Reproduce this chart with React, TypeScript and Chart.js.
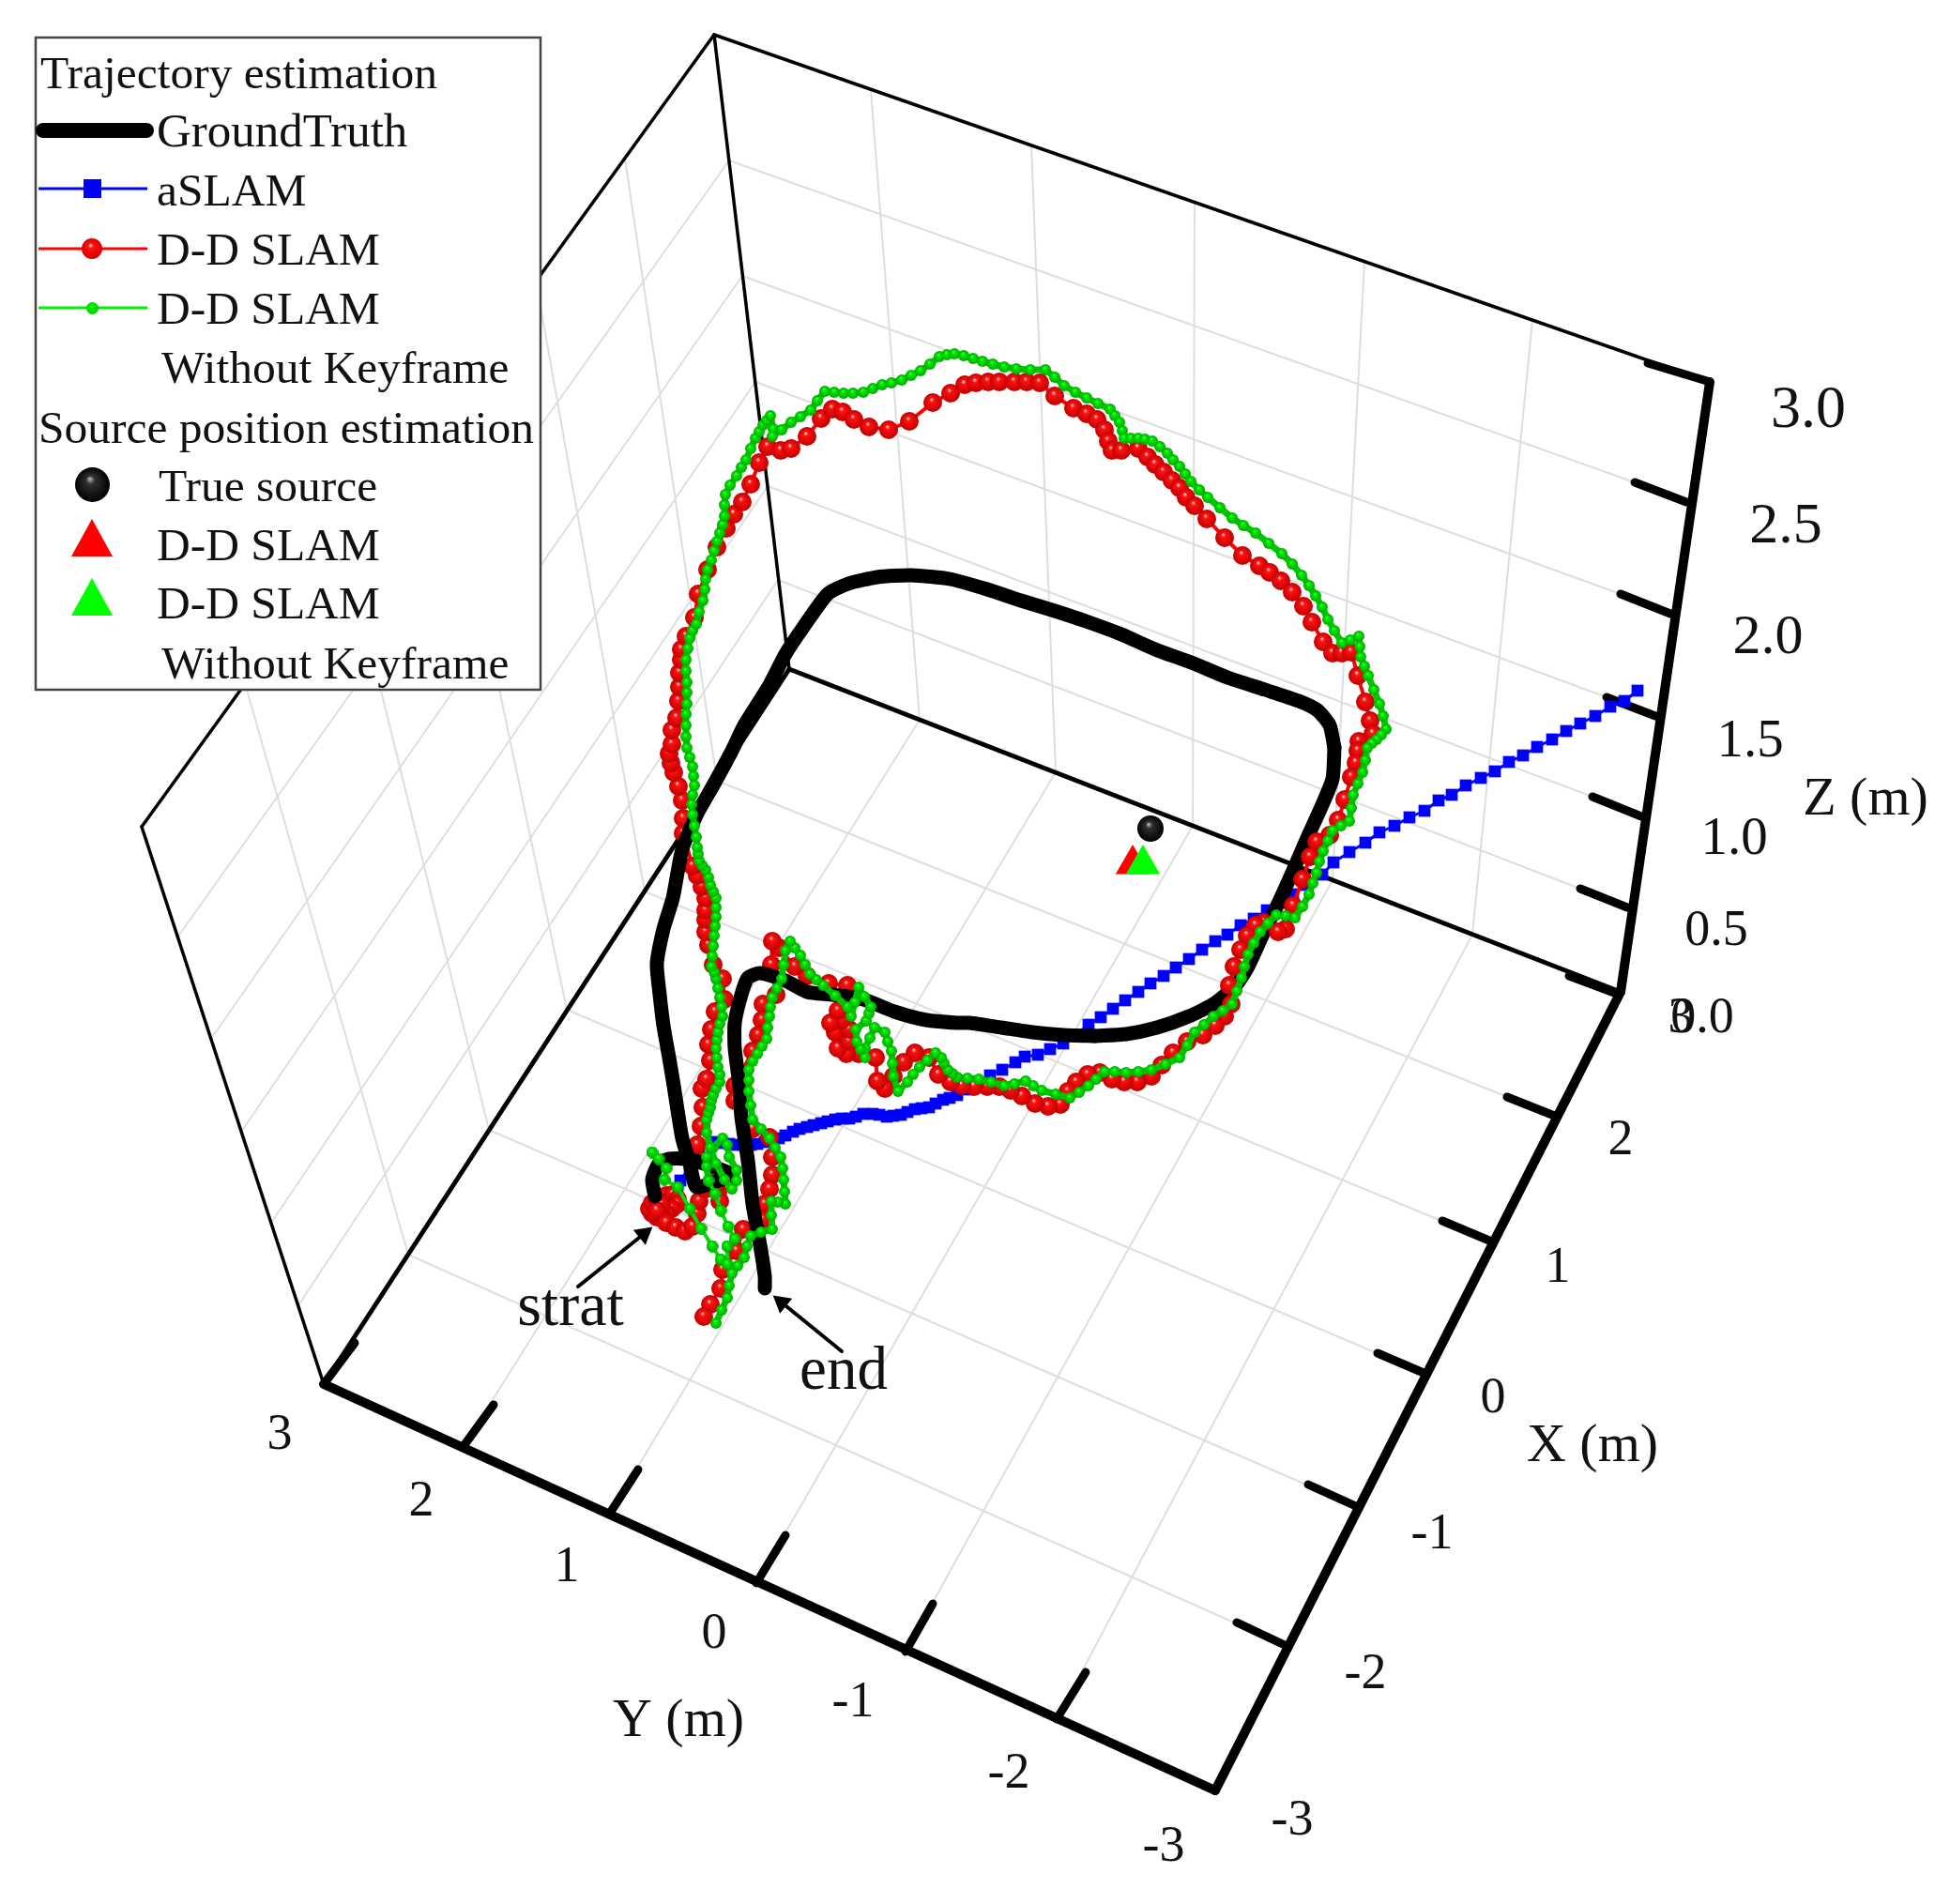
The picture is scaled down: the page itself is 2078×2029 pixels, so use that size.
import { useEffect, useRef } from "react";
import Chart from "chart.js/auto";

type Pt = [number, number];

const floorX: Pt[][] = [[[764,832],[1659,1190]],[[687,950],[1587,1322]],[[604,1076],[1517,1463]],[[521,1204],[1447,1606]],[[435,1337],[1371,1754]]];
const floorY: Pt[][] = [[[494,1541],[980,767]],[[649,1614],[1125,823]],[[806,1687],[1271,880]],[[965,1760],[1420,938]],[[1126,1832],[1569,996]]];
const backWallV: Pt[][] = [[[928,96],[980,767]],[[1099,155],[1125,823]],[[1273,216],[1271,880]],[[1454,278],[1420,938]],[[1633,341],[1569,996]]];
const backWallH: Pt[][] = [[[777,171],[1742,514]],[[791,294],[1727,633]],[[805,407],[1712,743]],[[818,518],[1697,849]],[[829,618],[1684,947]]];
const sideWallV: Pt[][] = [[[666,169],[764,832]],[[571,299],[687,950]],[[470,440],[604,1076]],[[368,581],[521,1204]],[[261,728],[435,1337]]];
const sideWallH: Pt[][] = [[[777,171],[189,999]],[[791,294],[225,1107]],[[805,407],[257,1206]],[[818,518],[289,1303]],[[829,618],[318,1391]]];

const thinEdges: Pt[][] = [[[761,37],[841,713]],[[761,37],[1822,407]],[[761,37],[151,881]],[[151,881],[345,1475]]];
const floorEdges: Pt[][] = [[[841,713],[1727,1057]],[[841,713],[345,1475]]];
const thickEdges: Pt[][] = [[[345,1475],[1295,1908]],[[1295,1908],[1727,1057]],[[1727,1057],[1822,407]]];
const tickMarks: Pt[][] = [
  [[1756,387],[1819,406]],[[1742,514],[1797,535]],[[1727,633],[1780,654]],[[1712,743],[1764,763]],[[1697,849],[1749,870]],[[1684,947],[1734,967]],[[1672,1040],[1723,1059]],
  [[1659,1190],[1606,1169]],[[1587,1322],[1537,1301]],[[1517,1463],[1468,1442]],[[1447,1606],[1394,1582]],[[1371,1754],[1318,1729]],
  [[345,1475],[378,1431]],[[494,1541],[526,1497]],[[649,1614],[680,1566]],[[806,1687],[837,1636]],[[965,1760],[994,1709]],[[1126,1832],[1157,1782]],
];

const aSlam: Pt[] = [[1745,736],[1731,747],[1716,753],[1700,763],[1684,771],[1669,779],[1654,788],[1638,796],[1623,805],[1608,812],[1593,822],[1578,829],[1562,837],[1547,847],[1533,853],[1518,864],[1502,871],[1486,880],[1470,887],[1455,898],[1438,908],[1421,919],[1409,932],[1392,943],[1378,953],[1364,962],[1350,970],[1336,979],[1322,986],[1308,996],[1295,1003],[1281,1012],[1267,1022],[1253,1031],[1240,1040],[1226,1048],[1213,1057],[1199,1066],[1186,1075],[1173,1084],[1160,1092],[1146,1103],[1133,1112],[1119,1118],[1106,1124],[1092,1126],[1082,1132],[1068,1140],[1055,1146],[1040,1155],[1030,1161],[1020,1167],[1012,1170],[1005,1172],[997,1176],[990,1180],[982,1181],[975,1182],[967,1185],[960,1188],[952,1189],[945,1190],[937,1188],[930,1187],[920,1187],[912,1190],[905,1192],[897,1192],[890,1193],[882,1195],[875,1197],[867,1199],[860,1201],[852,1203],[845,1206],[837,1210],[830,1213],[822,1215],[815,1217],[807,1219],[800,1220],[792,1220],[785,1220],[777,1219],[770,1218],[760,1217],[745,1228],[735,1243],[725,1258],[722,1268]];

const truthStart: Pt[] = [[698,1275],[695,1257],[702,1240],[713,1235],[730,1235],[750,1240],[780,1252],[760,1260],[742,1265],[735,1240],[727,1213],[722,1183],[718,1157],[713,1127],[707,1093],[703,1060],[700,1027],[707,990],[717,957],[727,905],[743,867],[760,837],[780,800],[793,773],[820,730],[837,697],[857,667],[882,633],[904,622],[935,615],[971,613],[1012,617],[1052,628],[1088,640],[1124,651],[1160,663],[1195,676],[1231,692],[1272,707],[1308,722],[1348,735],[1384,747],[1404,757],[1417,773],[1422,797]];
const truthMid: Pt[] = [[1422,797],[1420,830],[1408,860],[1393,893],[1377,930],[1362,963],[1347,993],[1330,1030],[1317,1050],[1293,1070],[1267,1083],[1233,1095],[1200,1102],[1167,1104]];
const truthEnd: Pt[] = [[1167,1104],[1133,1103],[1100,1100],[1067,1095],[1033,1090],[1020,1090],[987,1087],[953,1078],[920,1065],[887,1060],[860,1057],[837,1045],[810,1037],[797,1042],[790,1060],[783,1090],[783,1117],[788,1157],[790,1190],[797,1237],[802,1283],[810,1327],[815,1360],[815,1373]];

const ddSlam: Pt[] = [[703,1277],[710,1274],[717,1273],[722,1278],[722,1283],[716,1288],[710,1293],[705,1296],[700,1297],[695,1293],[692,1288],[695,1282],[700,1278],[705,1284],[700,1290],[710,1303],[720,1308],[730,1312],[738,1307],[743,1293],[745,1280],[752,1267],[765,1270],[767,1280],[763,1263],[743,1220],[747,1200],[749,1180],[748,1160],[753,1150],[757,1130],[755,1113],[758,1097],[762,1078],[772,1065],[770,1043],[760,1028],[755,1007],[752,993],[752,980],[752,970],[752,957],[748,945],[743,933],[738,923],[728,888],[728,872],[727,853],[723,838],[718,823],[715,813],[713,803],[716,793],[716,778],[721,765],[723,747],[724,732],[724,717],[726,703],[726,692],[731,678],[740,658],[744,633],[754,607],[764,583],[774,563],[782,548],[791,535],[800,516],[809,493],[818,476],[832,480],[843,478],[860,465],[875,446],[887,436],[898,439],[910,447],[926,455],[947,458],[969,449],[994,429],[1013,419],[1028,410],[1040,408],[1053,407],[1065,407],[1081,407],[1094,407],[1108,408],[1124,422],[1144,435],[1158,441],[1169,447],[1177,458],[1181,470],[1185,480],[1195,480],[1213,478],[1223,487],[1231,495],[1240,503],[1249,512],[1257,520],[1264,530],[1273,539],[1286,553],[1305,573],[1324,592],[1342,603],[1353,610],[1365,619],[1377,631],[1389,646],[1398,663],[1410,684],[1420,696],[1430,696],[1440,695],[1447,720],[1455,748],[1460,768],[1463,782],[1448,790],[1447,800],[1445,813],[1440,828],[1433,852],[1426,874],[1417,890],[1403,897],[1396,913],[1388,937],[1378,965],[1370,990],[1362,993],[1347,983],[1338,986],[1329,997],[1322,1012],[1315,1030],[1310,1050],[1312,1070],[1305,1083],[1295,1093],[1282,1103],[1265,1110],[1250,1122],[1238,1135],[1227,1147],[1212,1153],[1198,1153],[1185,1150],[1172,1143],[1159,1145],[1147,1153],[1138,1163],[1130,1177],[1117,1179],[1103,1176],[1089,1168],[1077,1162],[1065,1158],[1052,1158],[1038,1158],[1025,1157],[1013,1153],[1000,1145],[990,1127],[975,1122],[963,1132],[952,1147],[943,1160],[935,1152],[933,1127],[915,1123],[902,1123],[893,1117],[905,1110],[890,1100],[905,1097],[897,1087],[885,1090],[893,1077],[903,1050],[883,1048],[860,1040],[847,1030],[830,1010],[823,1003],[822,1028],[827,1060],[813,1070],[812,1087],[808,1103],[802,1120],[783,1157],[783,1173],[802,1203],[820,1212],[823,1233],[823,1252],[820,1267],[815,1283],[813,1300],[792,1310],[785,1333],[770,1353],[768,1373],[757,1390],[750,1403]];

const ddNoKeyStart: Pt[] = [[695,1228],[702,1235],[710,1245],[708,1257],[722,1265],[735,1288],[747,1309],[759,1328],[768,1342],[775,1347],[775,1328],[783,1320],[776,1307],[768,1290],[762,1272],[755,1258]];
const ddNoKey: Pt[] = [[755,1258],[753,1243],[753,1233],[760,1223],[770,1213],[775,1220],[777,1233],[785,1247],[785,1258],[780,1267],[772,1257],[763,1240],[757,1223],[753,1207],[753,1193],[755,1186],[757,1180],[758,1173],[760,1167],[763,1160],[767,1153],[767,1145],[765,1137],[764,1127],[763,1117],[764,1108],[765,1100],[767,1091],[770,1083],[769,1073],[767,1063],[765,1053],[763,1043],[761,1036],[758,1030],[759,1019],[760,1008],[761,997],[762,987],[763,977],[763,967],[763,957],[760,950],[757,943],[755,935],[752,927],[748,922],[745,917],[744,910],[743,903],[742,892],[740,880],[738,868],[737,857],[738,847],[740,837],[739,827],[738,817],[735,807],[732,797],[731,785],[731,773],[731,761],[732,750],[732,738],[732,727],[731,715],[731,703],[733,691],[735,680],[738,672],[742,665],[745,652],[749,640],[751,628],[752,617],[754,607],[758,597],[761,587],[764,577],[767,568],[770,559],[772,550],[772,538],[773,527],[778,517],[785,507],[790,498],[795,490],[800,478],[805,467],[809,460],[813,453],[817,448],[821,443],[824,457],[823,465],[833,458],[843,450],[853,444],[864,437],[871,427],[879,417],[889,418],[899,419],[909,419],[920,418],[930,414],[940,410],[950,408],[961,405],[971,400],[981,395],[991,388],[1001,380],[1009,378],[1017,377],[1027,379],[1037,382],[1047,385],[1058,388],[1070,391],[1083,393],[1098,394],[1114,394],[1124,402],[1134,411],[1146,418],[1158,424],[1170,430],[1183,436],[1188,443],[1193,450],[1196,459],[1198,467],[1205,467],[1213,467],[1220,468],[1228,470],[1236,476],[1244,483],[1250,490],[1257,497],[1263,505],[1269,513],[1278,522],[1287,530],[1300,541],[1313,552],[1325,560],[1338,568],[1352,579],[1366,590],[1377,601],[1387,613],[1395,624],[1402,635],[1409,647],[1415,660],[1422,672],[1430,685],[1439,682],[1448,678],[1449,689],[1450,700],[1454,710],[1458,720],[1464,735],[1470,750],[1474,763],[1477,777],[1472,783],[1467,788],[1462,792],[1457,797],[1455,810],[1452,823],[1447,835],[1442,847],[1440,861],[1438,875],[1429,880],[1420,885],[1415,896],[1410,907],[1406,918],[1403,930],[1399,941],[1395,953],[1388,966],[1380,978],[1370,976],[1360,975],[1351,984],[1343,993],[1336,1005],[1330,1017],[1326,1030],[1323,1042],[1318,1056],[1313,1070],[1303,1077],[1293,1083],[1283,1092],[1273,1100],[1265,1114],[1257,1127],[1242,1134],[1227,1140],[1213,1142],[1200,1143],[1188,1142],[1177,1142],[1168,1150],[1160,1157],[1150,1164],[1140,1170],[1125,1166],[1110,1162],[1101,1157],[1093,1152],[1081,1155],[1070,1157],[1056,1153],[1043,1150],[1031,1149],[1020,1148],[1015,1144],[1010,1140],[1006,1133],[1003,1127],[997,1122],[988,1130],[980,1137],[973,1145],[967,1153],[957,1163],[952,1147],[951,1133],[950,1120],[946,1110],[943,1100],[932,1095],[927,1106],[922,1117],[922,1127],[917,1118],[913,1110],[912,1097],[923,1088],[926,1080],[928,1073],[921,1062],[915,1052],[911,1068],[907,1083],[903,1073],[890,1061],[877,1050],[870,1044],[863,1038],[858,1028],[853,1018],[847,1010],[842,1003],[837,1013],[835,1028],[833,1043],[828,1053],[823,1063],[821,1073],[820,1083],[818,1095],[817,1107],[812,1115],[807,1123],[802,1131],[798,1140],[798,1151],[798,1163],[800,1178],[802,1193],[811,1203],[820,1213],[826,1223],[832,1233],[834,1245],[835,1257],[836,1270],[837,1283],[829,1281],[822,1280],[822,1295],[823,1310],[811,1313],[800,1317],[796,1328],[793,1340],[786,1349],[780,1357],[777,1370],[775,1383],[769,1396],[763,1410]];

const trueSource: Pt[] = [[1226,883]];
const ddSource: Pt[] = [[1207,921]];
const ddNoKeySource: Pt[] = [[1218,921]];
const arrows: Pt[][] = [[[616,1371],[686,1315]],[[897,1440],[833,1388]]];

const zLabels = ["3.0", "2.5", "2.0", "1.5", "1.0", "0.5", "0.0"];
const xLabels = ["3", "2", "1", "0", "-1", "-2", "-3"];
const yLabels = ["3", "2", "1", "0", "-1", "-2", "-3"];
const zLabelPos: Pt[] = [[1927,438],[1903,562],[1884,680],[1865,791],[1848,895],[1829,993],[1814,1086]];
const zLabelSize = [64, 62, 60, 57, 57, 54, 54];
const xLabelPos: Pt[] = [[1791,1086],[1727,1216],[1660,1352],[1591,1491],[1526,1636],[1455,1785],[1377,1941]];
const yLabelPos: Pt[] = [[298,1530],[449,1601],[604,1671],[761,1742],[909,1815],[1075,1891],[1240,1969]];

const legendTexts = ["Trajectory estimation", "GroundTruth", "aSLAM", "D-D SLAM", "D-D SLAM", "Without Keyframe", "Source position estimation", "True source", "D-D SLAM", "D-D SLAM", "Without Keyframe"];
const legendTextPos: Pt[] = [[43,94],[167,156],[167,219],[167,282],[167,345],[172,408],[41,472],[169,534],[167,597],[167,659],[172,723]];

const SERIF = '"Liberation Serif"';

function toXY(pts: Pt[]) {
  return pts.map(([x, y]) => ({ x, y }));
}

function sphere(size: number, light: string, mid: string, edge: string) {
  const c = document.createElement("canvas");
  c.width = size;
  c.height = size;
  const g = c.getContext("2d")!;
  const r = size / 2;
  const grad = g.createRadialGradient(r * 0.85, r * 0.65, 0, r, r, r);
  grad.addColorStop(0, light);
  grad.addColorStop(0.25, mid);
  grad.addColorStop(1, edge);
  g.fillStyle = grad;
  g.beginPath();
  g.arc(r, r, r, 0, Math.PI * 2);
  g.fill();
  return c;
}

function lineSet(pts: Pt[], color: string, width: number, extra: any = {}) {
  return {
    data: toXY(pts),
    showLine: true,
    borderColor: color,
    backgroundColor: color,
    borderWidth: width,
    pointRadius: 0,
    borderCapStyle: "round",
    borderJoinStyle: "round",
    ...extra,
  };
}

export default function App() {
  const canvasRef = useRef<HTMLCanvasElement>(null);

  useEffect(() => {
    if (!canvasRef.current) return;

    const redBall = sphere(20, "#ffe0e0", "#ff1010", "#c00000");
    const greenBall = sphere(12, "#70ff70", "#00f000", "#00a800");
    const greenBead = sphere(13, "#70ff70", "#00f000", "#00a800");
    const blackBall = sphere(28, "#c8c8c8", "#303030", "#000000");
    const legendRed = sphere(22, "#ffe0e0", "#ff1010", "#d80000");
    const legendGreen = sphere(13, "#40ff40", "#00f000", "#00d000");
    const legendBlack = sphere(37, "#c0c0c0", "#303030", "#000000");

    const textPlugin = {
      id: "pictureText",
      afterDatasetsDraw(chart: any) {
        const ctx = chart.ctx;
        const sx = chart.scales.x;
        const sy = chart.scales.y;
        const text = (s: string, p: Pt, size: number, align: any = "center", base: any = "middle") => {
          ctx.font = `${size}px ${SERIF}`;
          ctx.textAlign = align;
          ctx.textBaseline = base;
          ctx.fillStyle = "#111";
          ctx.fillText(s, sx.getPixelForValue(p[0]), sy.getPixelForValue(p[1]));
        };
        ctx.save();
        zLabels.forEach((s, i) => text(s, zLabelPos[i], zLabelSize[i]));
        xLabels.forEach((s, i) => text(s, xLabelPos[i], 54));
        yLabels.forEach((s, i) => text(s, yLabelPos[i], 54));
        text("Z (m)", [1988, 853], 58);
        text("X (m)", [1697, 1542], 58);
        text("Y (m)", [723, 1835], 58);
        text("strat", [608, 1395], 66);
        text("end", [899, 1463], 65);

        // legend box sits on top of the axes box
        ctx.fillStyle = "#fff";
        ctx.fillRect(38, 40, 538, 695);
        ctx.strokeStyle = "#444";
        ctx.lineWidth = 2.5;
        ctx.strokeRect(38, 40, 538, 695);
        legendTexts.forEach((s, i) => text(s, legendTextPos[i], s === "GroundTruth" ? 51 : 49.5, "left", "alphabetic"));

        ctx.lineCap = "round";
        ctx.strokeStyle = "#000";
        ctx.lineWidth = 16;
        ctx.beginPath();
        ctx.moveTo(46, 139);
        ctx.lineTo(156, 139);
        ctx.stroke();
        ctx.lineCap = "butt";
        ctx.lineWidth = 3;
        [["#0000ff", 201], ["#ff0000", 265], ["#00f000", 328]].forEach(([c, y]: any) => {
          ctx.strokeStyle = c;
          ctx.beginPath();
          ctx.moveTo(41, y);
          ctx.lineTo(157, y);
          ctx.stroke();
        });
        ctx.fillStyle = "#0000ff";
        ctx.fillRect(89, 191, 19, 20);
        ctx.drawImage(legendRed, 87, 254);
        ctx.drawImage(legendGreen, 92, 322);
        ctx.drawImage(legendBlack, 80, 498);
        [["#ff0000", 553], ["#00ff00", 616]].forEach(([c, y]: any) => {
          ctx.fillStyle = c;
          ctx.beginPath();
          ctx.moveTo(98, y);
          ctx.lineTo(120, y + 40);
          ctx.lineTo(76, y + 40);
          ctx.closePath();
          ctx.fill();
        });
        ctx.restore();
      },
    };

    const grid = [...floorX, ...floorY, ...backWallV, ...backWallH, ...sideWallV, ...sideWallH];

    // listed back to front, chart.js paints the first dataset last
    const layers = [
      ...grid.map((l) => lineSet(l, "#dedede", 2)),
      ...thinEdges.map((l) => lineSet(l, "#000", 3.5)),
      ...floorEdges.map((l) => lineSet(l, "#000", 5)),
      ...thickEdges.map((l) => lineSet(l, "#000", 10)),
      ...tickMarks.map((l) => lineSet(l, "#000", 9)),
      ...arrows.map((l, i) =>
        lineSet(l, "#000", 4, {
          pointRadius: [0, 12],
          pointStyle: "triangle",
          pointRotation: [0, i === 0 ? 51 : -51],
          pointBackgroundColor: "#000",
          pointBorderWidth: 0,
        })
      ),
      lineSet(aSlam, "#0000ff", 3, { pointRadius: 9, pointStyle: "rect", pointBackgroundColor: "#0000ff", pointBorderWidth: 0 }),
      lineSet(truthMid, "#000", 15, { tension: 0.2 }),
      lineSet(ddSlam, "#ff0000", 4, { pointRadius: 10, pointStyle: redBall }),
      lineSet(truthStart, "#000", 15, { tension: 0.2 }),
      lineSet(truthEnd, "#000", 15, { tension: 0.2 }),
      lineSet(ddNoKeyStart, "#00e000", 4, { pointRadius: 6, pointStyle: greenBead }),
      lineSet(ddNoKey, "#00c800", 7, { pointRadius: 6, pointStyle: greenBall }),
      lineSet(trueSource, "#000", 0, { pointRadius: 14, pointStyle: blackBall }),
      lineSet(ddSource, "#ff0000", 0, { pointRadius: 21, pointStyle: "triangle", pointBackgroundColor: "#ff0000", pointBorderWidth: 0 }),
      lineSet(ddNoKeySource, "#00ff00", 0, { pointRadius: 21, pointStyle: "triangle", pointBackgroundColor: "#00ff00", pointBorderWidth: 0 }),
    ];

    const chart = new Chart(canvasRef.current, {
      type: "scatter",
      data: { datasets: layers.reverse() as any },
      options: {
        responsive: false,
        animation: false,
        devicePixelRatio: 1,
        layout: { padding: 0, autoPadding: false },
        plugins: { legend: { display: false }, tooltip: { enabled: false } },
        scales: {
          x: { type: "linear", min: 0, max: 2078, display: false },
          y: { type: "linear", min: 0, max: 2029, reverse: true, display: false },
        },
      },
      plugins: [textPlugin],
    });

    return () => chart.destroy();
  }, []);

  return (
    <div style={{ position: "absolute", left: 0, top: 0, width: 2078, height: 2029, background: "#fff" }}>
      <canvas ref={canvasRef} width={2078} height={2029} style={{ display: "block" }} />
    </div>
  );
}
